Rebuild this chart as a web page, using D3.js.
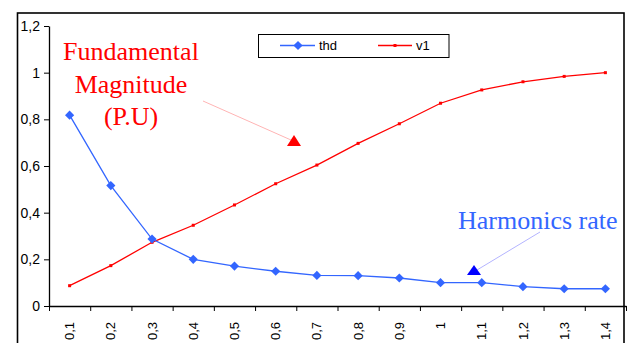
<!DOCTYPE html>
<html>
<head>
<meta charset="utf-8">
<script src="https://cdn.jsdelivr.net/npm/d3@7"></script>
<style>
  body { margin: 0; background: #fff; }
  svg { display: block; }
  .axis text { font-family: "Liberation Sans", Arial, sans-serif; fill: #000; }
</style>
</head>
<body>
<div id="chart"></div>
<script>
const w = 633;
const h = 343;

// data
var categories = ["0,1", "0,2", "0,3", "0,4", "0,5", "0,6", "0,7", "0,8", "0,9", "1", "1,1", "1,2", "1,3", "1,4"];
var thd = [0.818, 0.516, 0.287, 0.2, 0.171, 0.149, 0.131, 0.13, 0.12, 0.1, 0.1, 0.083, 0.074, 0.074];
var v1 = [0.087, 0.173, 0.273, 0.346, 0.433, 0.524, 0.604, 0.697, 0.781, 0.869, 0.926, 0.961, 0.984, 1.0];
var yTicks = [0, 0.2, 0.4, 0.6, 0.8, 1, 1.2];

var blue = "#3366ff";
var red = "#ff0000";

// plot area (window.top is reserved, so use other names)
var pLeft = 49, pRight = 626, pTop = 26, pBottom = 306;

var svg = d3.select("#chart")
    .append("svg")
    .attr("width", w)
    .attr("height", h)

// outer chart border
svg.append("rect")
    .attr("x", 17.5)
    .attr("y", 13)
    .attr("width", 606.5)
    .attr("height", 360)
    .attr("fill", "none")
    .attr("stroke", "#000")
    .attr("stroke-width", 1.6)

var x = d3.scaleBand()
    .domain(categories)
    .range([pLeft, pRight])
    .padding(0)

var xEdge = d3.scaleLinear()
    .domain([0, categories.length])
    .range([pLeft, pRight])

var y = d3.scaleLinear()
    .domain([0, 1.2])
    .range([pBottom, pTop])

var locale = d3.formatLocale({decimal: ",", thousands: ".", grouping: [3], currency: ["", ""]});
var fmt = locale.format("~g");

// y axis
var yAxis = svg.append("g")
    .attr("class", "axis")
    .attr("transform", "translate(" + pLeft + ",0)")
    .call(d3.axisLeft(y).tickValues(yTicks).tickFormat(fmt).tickSize(5).tickSizeOuter(0).tickPadding(4))
yAxis.select(".domain").attr("stroke-width", 1.3);
yAxis.selectAll("text").style("font-size", "14px");

// x axis: ticks on category edges
var xAxis = svg.append("g")
    .attr("class", "axis")
    .attr("transform", "translate(0," + pBottom + ")")
    .call(d3.axisBottom(xEdge).tickValues(d3.range(categories.length + 1)).tickFormat("").tickSize(5).tickSizeOuter(0))
xAxis.select(".domain").attr("stroke-width", 1.3);

svg.append("g")
    .attr("class", "axis")
    .selectAll("text")
    .data(categories)
    .enter()
    .append("text")
    .attr("transform", function(d) {
        return "translate(" + (x(d) + x.bandwidth() / 2) + "," + 322 + ") rotate(-90)";
    })
    .attr("text-anchor", "end")
    .attr("dy", "0.35em")
    .style("font-size", "13px")
    .text(function(d) { return d; })

var cx = function(d, i) { return x(categories[i]) + x.bandwidth() / 2; };

var line = d3.line()
    .x(cx)
    .y(function(d) { return y(d); })

// v1 series
svg.append("path")
    .datum(v1)
    .attr("fill", "none")
    .attr("stroke", red)
    .attr("stroke-width", 1.3)
    .attr("d", line)

svg.append("g")
    .selectAll("rect")
    .data(v1)
    .enter()
    .append("rect")
    .attr("x", function(d, i) { return cx(d, i) - 1.5; })
    .attr("y", function(d) { return y(d) - 1.5; })
    .attr("width", 3)
    .attr("height", 3)
    .attr("fill", red)

// thd series
svg.append("path")
    .datum(thd)
    .attr("fill", "none")
    .attr("stroke", blue)
    .attr("stroke-width", 1.3)
    .attr("d", line)

svg.append("g")
    .selectAll("path")
    .data(thd)
    .enter()
    .append("path")
    .attr("transform", function(d, i) { return "translate(" + cx(d, i) + "," + y(d) + ") rotate(45)"; })
    .attr("d", d3.symbol().type(d3.symbolSquare).size(42))
    .attr("fill", blue)

// legend
var legend = svg.append("g");
legend.append("rect")
    .attr("x", 258.5)
    .attr("y", 34.5)
    .attr("width", 190.5)
    .attr("height", 23)
    .attr("fill", "#fff")
    .attr("stroke", "#000")
    .attr("stroke-width", 1)

legend.append("line")
    .attr("x1", 280).attr("x2", 315).attr("y1", 45.5).attr("y2", 45.5)
    .attr("stroke", blue).attr("stroke-width", 1.3)
legend.append("path")
    .attr("transform", "translate(298,45.5) rotate(45)")
    .attr("d", d3.symbol().type(d3.symbolSquare).size(42))
    .attr("fill", blue)
legend.append("line")
    .attr("x1", 378).attr("x2", 412).attr("y1", 45.5).attr("y2", 45.5)
    .attr("stroke", red).attr("stroke-width", 1.3)
legend.append("rect")
    .attr("x", 393.5).attr("y", 44).attr("width", 3).attr("height", 3)
    .attr("fill", red)

legend.selectAll("text")
    .data([["thd", 319], ["v1", 416]])
    .enter()
    .append("text")
    .attr("x", function(d) { return d[1]; })
    .attr("y", 50)
    .style("font-family", "Liberation Sans, Arial, sans-serif")
    .style("font-size", "13px")
    .text(function(d) { return d[0]; })

// annotations
var serif = "Liberation Serif, Times New Roman, serif";

svg.append("g")
    .selectAll("text")
    .data([["Fundamental", 60], ["Magnitude", 93], ["(P.U)", 125]])
    .enter()
    .append("text")
    .attr("x", 131)
    .attr("y", function(d) { return d[1]; })
    .attr("text-anchor", "middle")
    .style("font-family", serif)
    .style("font-size", "26px")
    .attr("fill", red)
    .text(function(d) { return d[0]; })

svg.append("line")
    .attr("x1", 203).attr("y1", 101).attr("x2", 291).attr("y2", 140)
    .attr("stroke", "#ffb4b4").attr("stroke-width", 1)
svg.append("path")
    .attr("d", "M294,135 L301,146 L287,146 Z")
    .attr("fill", red)

svg.append("text")
    .attr("x", 458)
    .attr("y", 229)
    .style("font-family", serif)
    .style("font-size", "26px")
    .attr("fill", blue)
    .text("Harmonics rate")

svg.append("line")
    .attr("x1", 540).attr("y1", 232).attr("x2", 477).attr("y2", 270)
    .attr("stroke", "#b4b4ff").attr("stroke-width", 1)
svg.append("path")
    .attr("d", "M474,265 L481,275 L467,275 Z")
    .attr("fill", "#0000ff")
</script>
</body>
</html>
